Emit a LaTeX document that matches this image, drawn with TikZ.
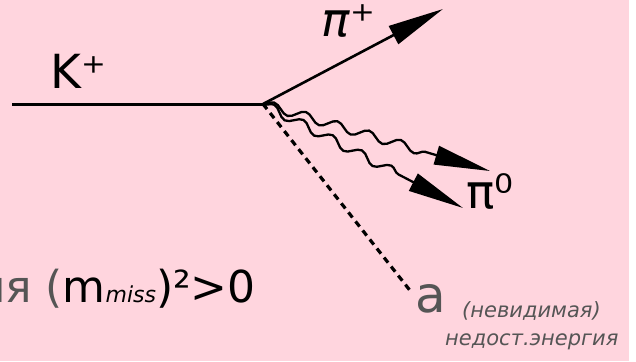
\documentclass[tikz,border=0pt]{standalone}
\usepackage{fontspec}
\setmainfont{DejaVu Sans}
\usetikzlibrary{arrows.meta,decorations.pathmorphing}
\definecolor{decaypink}{RGB}{255,213,222}
\definecolor{decaygray}{HTML}{555555}

\begin{document}
\begin{tikzpicture}[x=1pt, y=-1pt,
    every node/.style={inner sep=0pt, font=\fontsize{47}{50}\selectfont},
    track/.style={line width=3pt},
    arrow/.style={-{Triangle[length=56pt, width=20pt]}, line width=2.6pt},
    photon/.style={-{Triangle[length=56pt, width=19pt]}, line width=2.3pt, decorate,
        decoration={snake, amplitude=4.5pt, segment length=33pt, post length=58pt}},
    missing/.style={line width=3.2pt, dash pattern=on 6.5pt off 5pt},
    note/.style={font=\fontsize{21}{24}\selectfont\itshape, text=decaygray}
]
    % background and frame
    \useasboundingbox (0,0) rectangle (636,361);
    \fill[decaypink] (0,0) rectangle (629,361);
    \clip (0,0) rectangle (636,361);

    % decay vertex and end points
    \coordinate (vtx) at (263,104);
    \coordinate (kstart) at (12,104);
    \coordinate (piplus) at (443,9);
    \coordinate (gammaA) at (490,171);
    \coordinate (gammaB) at (463,208);
    \coordinate (aend) at (412,293);

    \draw[track] (kstart) -- (vtx);
    \draw[arrow] (vtx) -- (piplus);
    \draw[photon] (vtx) -- (gammaA);
    \draw[photon] (vtx) -- (gammaB);
    \draw[missing] (vtx) -- (aend);

    % labels
    \node[anchor=base west] (klabel) at (50,88) {K⁺};
    \node[anchor=base west] (piplabel) at (321,37) {\textit{π}⁺};
    \node[anchor=base west] (pizlabel) at (466,208) {π⁰};
    \node[anchor=base west, text=decaygray, font=\fontsize{50}{52}\selectfont] (alabel) at (415,312) {a};
    \node[note, anchor=base west] (invlabel) at (462,317) {(невидимая)};
    \node[note, anchor=base west] (energylabel) at (445,345) {недост.энергия};
    \node[anchor=base east, font=\fontsize{44}{46}\selectfont] (masslabel) at (256,302)
        {\textcolor{decaygray}{ля (}m{\fontsize{22}{24}\selectfont\itshape miss})²>0};
\end{tikzpicture}
\end{document}
